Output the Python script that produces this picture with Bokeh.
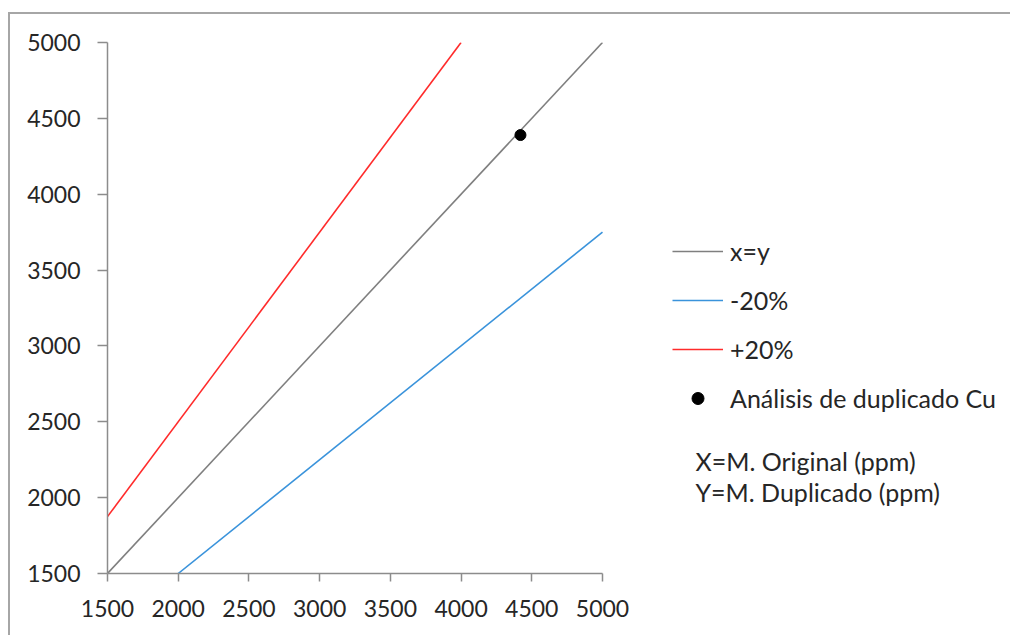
from bokeh.plotting import figure
from bokeh.models import Range1d, FixedTicker, Legend, LegendItem, Label
from bokeh.embed import file_html
from bokeh.resources import INLINE

# Data
line_xy_x = [1500, 5000]
line_xy_y = [1500, 5000]
minus20_x = [2000, 5000]
minus20_y = [1500, 3750]
plus20_x = [1500, 4000]
plus20_y = [1875, 5000]
point_x = [4420]
point_y = [4390]
ticks = [1500, 2000, 2500, 3000, 3500, 4000, 4500, 5000]
legend_labels = ["x=y", "-20%", "+20%", "Análisis de duplicado Cu"]
note_lines = ["X=M. Original (ppm)", "Y=M. Duplicado (ppm)"]

FONT = "Lato"
TXT = "#262626"

# frame extends to the right edge so the legend/notes are not clipped;
# axes drawn only over 1500..5000 via bounds
p = figure(width=1002, height=623, output_backend="svg", toolbar_location=None,
           x_range=Range1d(1500, 7885), y_range=Range1d(1500, 5000),
           min_border_left=99, min_border_right=0, min_border_top=30, min_border_bottom=62)
p.styles = {"margin-left": "8px", "margin-top": "12px",
            "margin-right": "-20px", "margin-bottom": "-20px",
            "box-shadow": "inset 2px 2px 0 0 #a6a6a6"}
p.outline_line_color = None
p.xgrid.grid_line_color = None
p.ygrid.grid_line_color = None
p.background_fill_color = "white"
p.border_fill_color = None

for ax in (p.xaxis[0], p.yaxis[0]):
    ax.ticker = FixedTicker(ticks=ticks)
    ax.bounds = (1500, 5000)
    ax.minor_tick_line_color = None
    ax.axis_line_color = "#8c8c8c"
    ax.major_tick_line_color = "#8c8c8c"
    ax.axis_line_width = 1.5
    ax.major_tick_line_width = 1.5
    ax.major_tick_in = 0
    ax.major_label_text_font = FONT
    ax.major_label_text_font_size = "23px"
    ax.major_label_text_color = TXT
p.xaxis.major_tick_out = 8
p.xaxis.major_label_standoff = 18
p.yaxis.major_tick_out = 10
p.yaxis.major_label_standoff = 17

r_xy = p.line(line_xy_x, line_xy_y, line_color="#7f7f7f", line_width=1.6)
r_m = p.line(minus20_x, minus20_y, line_color="#3a93db", line_width=1.6)
r_p = p.line(plus20_x, plus20_y, line_color="#ff2b2b", line_width=1.6)
r_pt = p.scatter(point_x, point_y, size=11, fill_color="black", line_color="black")

legend = Legend(items=[LegendItem(label=legend_labels[0], renderers=[r_xy]),
                       LegendItem(label=legend_labels[1], renderers=[r_m]),
                       LegendItem(label=legend_labels[2], renderers=[r_p]),
                       LegendItem(label=legend_labels[3], renderers=[r_pt])],
                location=(565, 160), border_line_color=None, background_fill_alpha=0,
                padding=0, margin=0, glyph_width=51, glyph_height=30, label_standoff=7,
                spacing=19, label_text_font=FONT, label_text_font_size="25px",
                label_text_color=TXT, label_height=30)
p.add_layout(legend, "center")

for i, t in enumerate(note_lines):
    p.add_layout(Label(x=588, y=113 - 31 * i, x_units="screen", y_units="screen", text=t,
                       text_font=FONT, text_font_size="25px", text_color=TXT,
                       text_baseline="middle", text_align="left"))

open("out.html", "w").write(file_html(p, INLINE))
